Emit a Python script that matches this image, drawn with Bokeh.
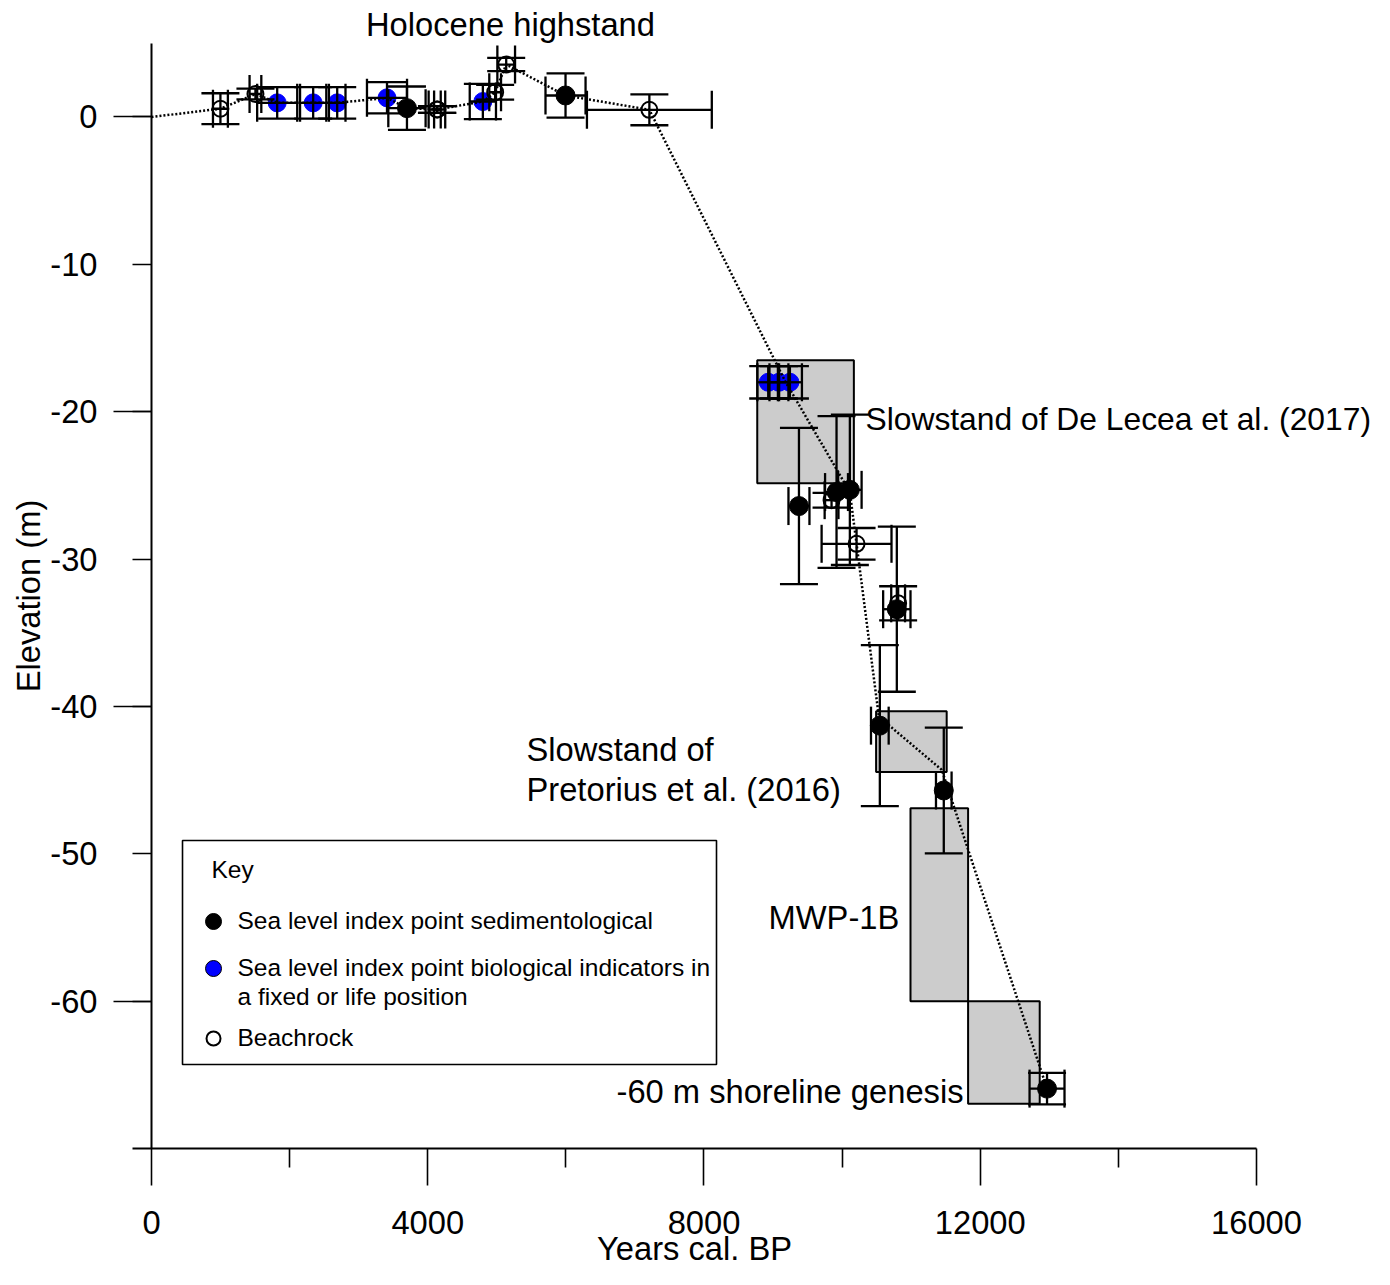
from bokeh.plotting import figure
from bokeh.models import (Range1d, LinearAxis, FixedTicker, Whisker, TeeHead,
                          ColumnDataSource)
from bokeh.core.properties import value
from bokeh.embed import file_html
from bokeh.resources import INLINE

# ---------------- data ----------------
# Beachrock (open circles): age (yr cal BP), elevation (m), age error, elevation error
beach_x = [998, 1505, 4133, 4140, 4976, 5136, 7209, 10209, 10811, 9847]
beach_y = [0.56, 1.56, 0.51, 0.51, 1.68, 3.56, 0.49, -28.96, -33.0, -26.0]
beach_xerr = [108, 85, 120, 48, 85, 128, 904, 506, 100, 100]
beach_yerr = [1.05, 0.37, 0.23, 0.23, 0.5, 0.45, 1.05, 1.07, 1.16, 0.5]

# Sea level index points, sedimentological (black)
sed_x = [3699, 5995, 9375, 9919, 10112, 10792, 10546, 11472, 12967]
sed_y = [0.6, 1.46, -26.4, -25.45, -25.3, -33.4, -41.3, -45.7, -65.93]
sed_xerr = [270, 290, 152, 166, 170, 198, 128, 113, 253]
sed_yerr = [1.47, 1.5, 5.3, 5.15, 5.1, 5.6, 5.46, 4.27, 1.07]

# Sea level index points, biological indicators (blue)
bio_x = [1820, 2341, 2689, 3410, 4798, 8930, 9085, 9244]
bio_y = [0.96, 0.96, 0.96, 1.3, 1.05, -18.0, -18.0, -18.0]
bio_xerr = [290, 190, 120, 290, 190, 157, 137, 174]
bio_yerr = [1.07, 1.07, 1.07, 1.06, 1.2, 1.1, 1.1, 1.1]

# Interpreted stands (grey boxes)
stand_left = [8771, 10492, 10990, 11824]
stand_right = [10170, 11514, 11824, 12861]
stand_top = [-16.5, -40.33, -46.9, -60.0]
stand_bottom = [-24.86, -44.45, -60.0, -66.95]

# Sea-level curve (dotted)
curve_x = [0, 998, 1505, 1820, 2689, 3410, 3699, 4133, 4798, 4976, 5136,
           5995, 7209, 9172, 10112, 10532, 11443, 12967]
curve_y = [0, 0.56, 1.56, 0.96, 0.96, 1.3, 0.6, 0.51, 1.05, 1.68, 3.56,
           1.46, 0.49, -17.9, -25.45, -40.7, -44.3, -65.93]

# Axis ticks
x_ticks = [0, 4000, 8000, 12000, 16000]
x_minor_ticks = [2000, 6000, 10000, 14000]
y_ticks = [-60, -50, -40, -30, -20, -10, 0]
y_long_ticks = [-60, -40, -20, 0]

# Annotations
note_text = ["Holocene highstand", "Slowstand of", "Pretorius et al. (2016)",
             "MWP-1B", "-60 m shoreline genesis"]
note_x = [5198, 5430, 5430, 8934, 6733]
note_y = [6.26, -42.95, -45.6, -54.35, -66.12]
note_align = ["center", "left", "left", "left", "left"]
note2_text = ["Slowstand of De Lecea et al. (2017)"]
note2_x = [10338]
note2_y = [-20.49]

# Key (legend) layout
key_box = dict(left=[449], right=[8181], top=[-49.09], bottom=[-64.29])
key_title = "Key"
key_labels = ["Sea level index point sedimentological",
              "Sea level index point biological indicators in",
              "a fixed or life position",
              "Beachrock"]
key_label_y = [-54.49, -57.68, -59.65, -62.43]
key_marker_y = [-54.59, -57.78, -62.53]

FONT = "Liberation Sans"
BIG = "32.7px"

p = figure(width=1374, height=1269, output_backend="svg", toolbar_location=None,
           x_axis_type=None, y_axis_type=None,
           x_range=Range1d(-2186.4, 17708.6), y_range=Range1d(-78.204, 7.905),
           min_border=0, min_border_left=0, min_border_right=0,
           min_border_top=0, min_border_bottom=0)
p.outline_line_color = None
p.grid.visible = False

# Axes
xaxis = LinearAxis(fixed_location=-70, bounds=(-275, 16000),
                   ticker=FixedTicker(ticks=x_ticks, minor_ticks=x_minor_ticks),
                   major_label_overrides={t: str(t) for t in x_ticks},
                   axis_label="Years cal. BP")
yaxis = LinearAxis(fixed_location=0, bounds=(-70, 5),
                   ticker=FixedTicker(ticks=y_ticks, minor_ticks=y_long_ticks),
                   major_label_overrides={t: str(t) for t in y_ticks},
                   axis_label="Elevation (m)")
for ax in (xaxis, yaxis):
    ax.axis_line_width = 2
    ax.axis_line_color = "black"
    ax.major_tick_line_width = 1.6
    ax.minor_tick_line_width = 1.6
    ax.major_tick_line_color = "black"
    ax.minor_tick_line_color = "black"
    ax.major_tick_in = 0
    ax.minor_tick_in = 0
    ax.major_label_text_font = FONT
    ax.major_label_text_font_size = BIG
    ax.major_label_text_color = "black"
    ax.axis_label_text_font = FONT
    ax.axis_label_text_font_size = BIG
    ax.axis_label_text_font_style = "normal"
    ax.axis_label_text_color = "black"
xaxis.major_tick_out = 37
xaxis.minor_tick_out = 19
xaxis.major_label_standoff = 25
xaxis.axis_label_standoff = -7
yaxis.major_tick_out = 19
yaxis.minor_tick_out = 38
yaxis.major_label_standoff = 16
yaxis.axis_label_standoff = 0
p.add_layout(xaxis, "below")
p.add_layout(yaxis, "left")

# Grey boxes
p.quad(left=stand_left, right=stand_right, top=stand_top, bottom=stand_bottom,
       fill_color="#cccccc", line_color="black", line_width=2, level="image")

# Points
p.scatter(sed_x, sed_y, size=19, marker="circle", fill_color="black",
          line_color="black", level="underlay")
p.scatter(bio_x, bio_y, size=18, marker="circle", fill_color="#0000ff",
          line_color="#0000ff", level="underlay")
p.scatter(beach_x, beach_y, size=16, marker="circle", fill_color="white",
          fill_alpha=0, line_color="black", line_width=2, level="underlay")

# Error bars
def add_errorbars(xs, ys, xe, ye):
    src = ColumnDataSource(dict(
        x=xs, y=ys,
        xl=[a - b for a, b in zip(xs, xe)], xu=[a + b for a, b in zip(xs, xe)],
        yl=[a - b for a, b in zip(ys, ye)], yu=[a + b for a, b in zip(ys, ye)]))
    for base, lo, up, dim in (("x", "yl", "yu", "height"), ("y", "xl", "xu", "width")):
        w = Whisker(source=src, base=base, lower=lo, upper=up, dimension=dim,
                    line_width=2.3, line_color="black", level="glyph",
                    upper_head=TeeHead(size=38, line_width=2.3, line_color="black"),
                    lower_head=TeeHead(size=38, line_width=2.3, line_color="black"))
        p.add_layout(w)

add_errorbars(beach_x, beach_y, beach_xerr, beach_yerr)
add_errorbars(sed_x, sed_y, sed_xerr, sed_yerr)
add_errorbars(bio_x, bio_y, bio_xerr, bio_yerr)

# Sea-level curve
p.line(curve_x, curve_y, line_color="black", line_width=2.5, line_dash="2 2",
       level="annotation")

# Annotations
p.text(x=note_x, y=note_y, text=note_text, text_align=note_align,
       text_baseline="alphabetic", text_font=value(FONT), text_font_size=BIG,
       text_color="black")
p.text(x=note2_x, y=note2_y, text=note2_text, text_align="left",
       text_baseline="alphabetic", text_font=value(FONT), text_font_size="31.8px",
       text_color="black")

# Key
p.quad(fill_color="white", line_color="black", line_width=1.6, level="annotation",
       **key_box)
kx0 = key_box["left"][0]
p.text(x=[kx0 + 420], y=[-51.03], text=[key_title], text_font=value(FONT),
       text_font_size="24.5px", text_baseline="alphabetic", level="annotation")
p.scatter([kx0 + 449], [key_marker_y[0]], size=16, fill_color="black",
          line_color="black", level="annotation")
p.scatter([kx0 + 449], [key_marker_y[1]], size=16, fill_color="#0000ff",
          line_color="black", line_width=1, level="annotation")
p.scatter([kx0 + 449], [key_marker_y[2]], size=14, fill_color="white",
          line_color="black", line_width=2, level="annotation")
p.text(x=[kx0 + 796] * 4, y=key_label_y, text=key_labels, text_font=value(FONT),
       text_font_size="24.5px", text_baseline="alphabetic", level="annotation")

open("out.html", "w").write(file_html(p, INLINE))
